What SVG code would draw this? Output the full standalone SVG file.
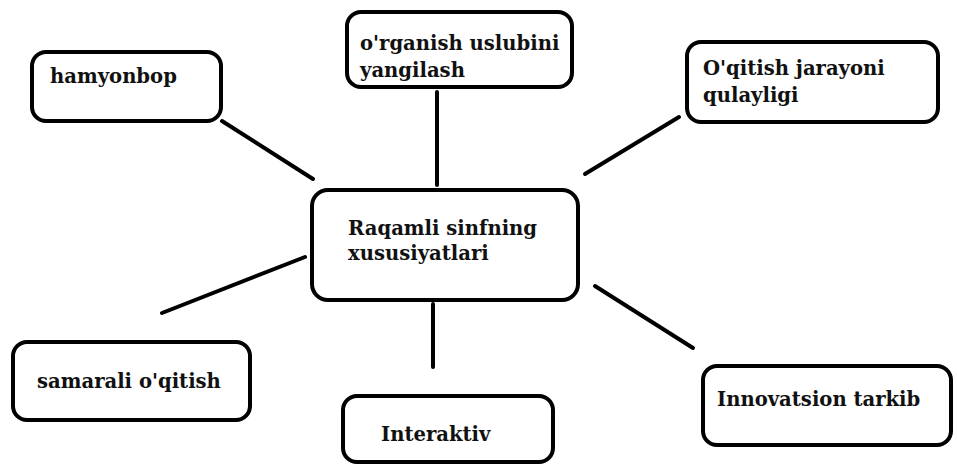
<svg xmlns="http://www.w3.org/2000/svg" width="957" height="466" viewBox="0 0 957 466">
<style>
.box{fill:#fff;stroke:#000;stroke-width:4}
.lbl{font-family:"DejaVu Serif","Liberation Serif",serif;font-weight:bold;font-size:19.6px;fill:#111}
.con line{stroke:#000;stroke-width:4;stroke-linecap:round}
</style>
<rect width="957" height="466" fill="#fff"/>
<g class="con" id="connectors">
<line x1="222" y1="121" x2="313" y2="179"/>
<line x1="437" y1="92" x2="437" y2="185"/>
<line x1="585" y1="174" x2="679" y2="117"/>
<line x1="305" y1="257" x2="162" y2="313"/>
<line x1="433" y1="304" x2="433" y2="367"/>
<line x1="595" y1="286" x2="693" y2="348"/>
</g>
<g id="hamyonbop"><rect class="box" x="32" y="52" width="189" height="69" rx="14"/><text class="lbl" x="50" y="83">hamyonbop</text></g>
<g id="organish"><rect class="box" x="347" y="12" width="225" height="75" rx="14"/><text class="lbl" x="360" y="50">o'rganish uslubini</text><text class="lbl" x="360" y="77">yangilash</text></g>
<g id="oqitish"><rect class="box" x="687" y="42" width="251" height="80" rx="14"/><text class="lbl" x="703" y="75">O'qitish jarayoni</text><text class="lbl" x="703" y="102">qulayligi</text></g>
<g id="center"><rect class="box" x="312" y="190" width="266" height="110" rx="16"/><text class="lbl" x="348" y="235">Raqamli sinfning</text><text class="lbl" x="348" y="260">xususiyatlari</text></g>
<g id="samarali"><rect class="box" x="13" y="342" width="237" height="78" rx="14"/><text class="lbl" x="37" y="388">samarali o'qitish</text></g>
<g id="interaktiv"><rect class="box" x="343" y="396" width="210" height="66" rx="14"/><text class="lbl" x="381" y="441">Interaktiv</text></g>
<g id="innovatsion"><rect class="box" x="703" y="366" width="248" height="79" rx="14"/><text class="lbl" x="717" y="406">Innovatsion tarkib</text></g>
</svg>
